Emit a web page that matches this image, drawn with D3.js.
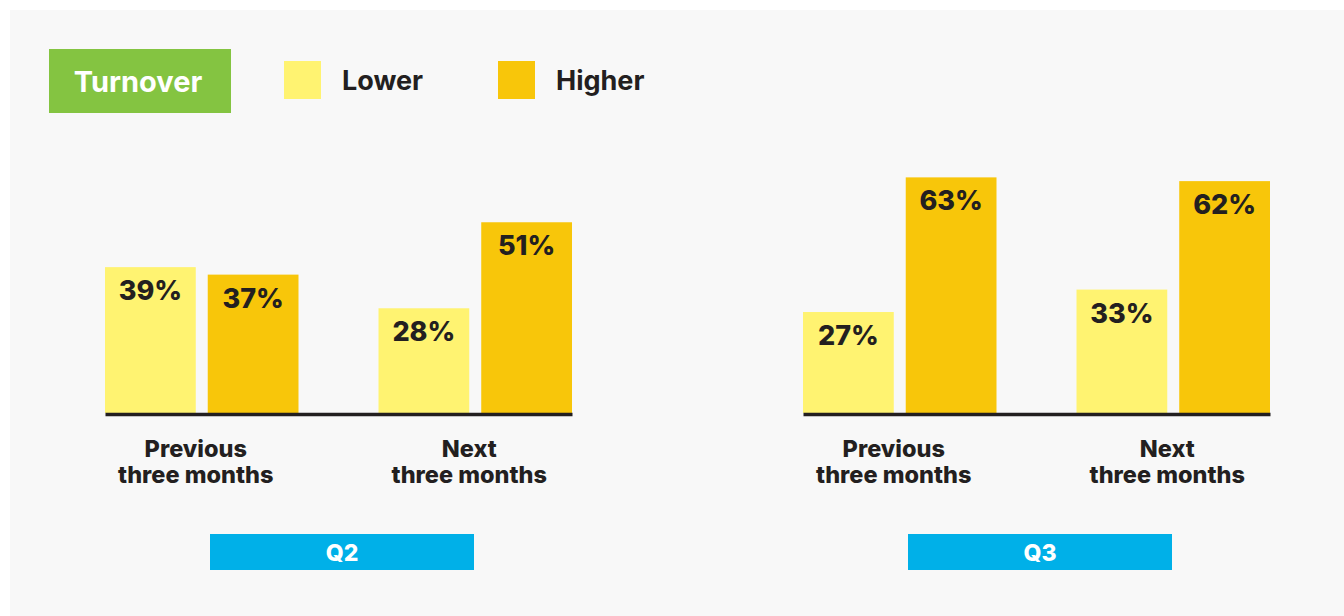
<!DOCTYPE html>
<html>
<head>
<meta charset="utf-8">
<script src="https://cdn.jsdelivr.net/npm/d3@7"></script>
<style>
  html, body { margin: 0; padding: 0; background: #ffffff; }
  svg { display: block; }
  text { font-family: Inter, "Noto Sans", sans-serif; }
</style>
</head>
<body>
<svg id="chart" width="1344" height="616"></svg>
<script>
// ---- data ----
const quarters = ["Q2", "Q3"];
const periods = ["Previous\nthree months", "Next\nthree months"];
const seriesNames = ["Lower", "Higher"];
const lowerQ2 = [39, 28];
const higherQ2 = [37, 51];
const lowerQ3 = [27, 33];
const higherQ3 = [63, 62];
const title = "Turnover";

const colors = { Lower: "#fff371", Higher: "#f8c60a" };

const svg = d3.select("#chart");
svg.append("rect").attr("x", 10).attr("y", 10).attr("width", 1334).attr("height", 606).attr("fill", "#f8f8f8");

// legend / title
svg.append("rect").attr("x", 49).attr("y", 49).attr("width", 182).attr("height", 64).attr("fill", "#84c441");
svg.append("text").attr("x", 138).attr("y", 92).attr("text-anchor", "middle")
  .attr("fill", "#ffffff").attr("font-family", "Roboto, sans-serif")
  .attr("font-weight", 700).attr("font-size", 29).text(title);

const legendX = [284, 498];
seriesNames.forEach((s, i) => {
  svg.append("rect").attr("x", legendX[i]).attr("y", 61).attr("width", 37).attr("height", 38).attr("fill", colors[s]);
  svg.append("text").attr("x", legendX[i] + 58).attr("y", 90)
    .attr("fill", "#231f20").attr("font-family", "Roboto, sans-serif")
    .attr("font-weight", 700).attr("font-size", 27).text(s);
});

// shared y scale
const baseline = 413;
const y = d3.scaleLinear().domain([0, 100]).range([baseline, baseline - 374]);

const panels = [
  { q: quarters[0], lower: lowerQ2, higher: higherQ2, x0: 105, x1: 572 },
  { q: quarters[1], lower: lowerQ3, higher: higherQ3, x0: 803, x1: 1270 }
];

panels.forEach(p => {
  const g = svg.append("g");
  const x = d3.scaleBand().domain(periods).range([p.x0, p.x1]).paddingInner(0.2925).paddingOuter(0);
  const xs = d3.scaleBand().domain(seriesNames).range([0, x.bandwidth()]).paddingInner(0.1165).paddingOuter(0);

  const rows = [];
  periods.forEach((per, i) => {
    rows.push({ per, s: "Lower", v: p.lower[i] });
    rows.push({ per, s: "Higher", v: p.higher[i] });
  });

  g.selectAll("rect.bar").data(rows).enter().append("rect")
    .attr("class", "bar")
    .attr("x", d => x(d.per) + xs(d.s))
    .attr("y", d => y(d.v))
    .attr("width", xs.bandwidth())
    .attr("height", d => baseline - y(d.v))
    .attr("fill", d => colors[d.s]);

  g.selectAll("text.val").data(rows).enter().append("text")
    .attr("class", "val")
    .attr("x", d => x(d.per) + xs(d.s) + xs.bandwidth() / 2)
    .attr("y", d => y(d.v) + 33)
    .attr("text-anchor", "middle")
    .attr("fill", "#231f20").attr("font-weight", 800).attr("font-size", 27)
    .text(d => d.v + "%");

  // axis baseline
  const axis = d3.axisBottom(x).tickSize(0).tickFormat("");
  const ag = g.append("g").attr("transform", `translate(0,${baseline + 1})`).call(axis);
  ag.select(".domain").attr("stroke", "#231f20").attr("stroke-width", 3.5);

  // category labels
  periods.forEach(per => {
    const cx = x(per) + x.bandwidth() / 2 - 6;
    const lines = per.split("\n");
    const t = g.append("text").attr("text-anchor", "middle").attr("fill", "#231f20")
      .attr("font-weight", 800).attr("font-size", 23.5);
    lines.forEach((ln, k) => {
      t.append("tspan").attr("x", cx).attr("y", 457 + k * 26).text(ln);
    });
  });

  // quarter box
  const qc = (p.x0 + p.x1) / 2 + 3.5;
  g.append("rect").attr("x", qc - 132).attr("y", 534).attr("width", 264).attr("height", 36).attr("fill", "#00b0e8");
  g.append("text").attr("x", qc).attr("y", 561).attr("text-anchor", "middle")
    .attr("fill", "#ffffff").attr("font-weight", 800).attr("font-size", 23).text(p.q);
});
</script>
</body>
</html>
